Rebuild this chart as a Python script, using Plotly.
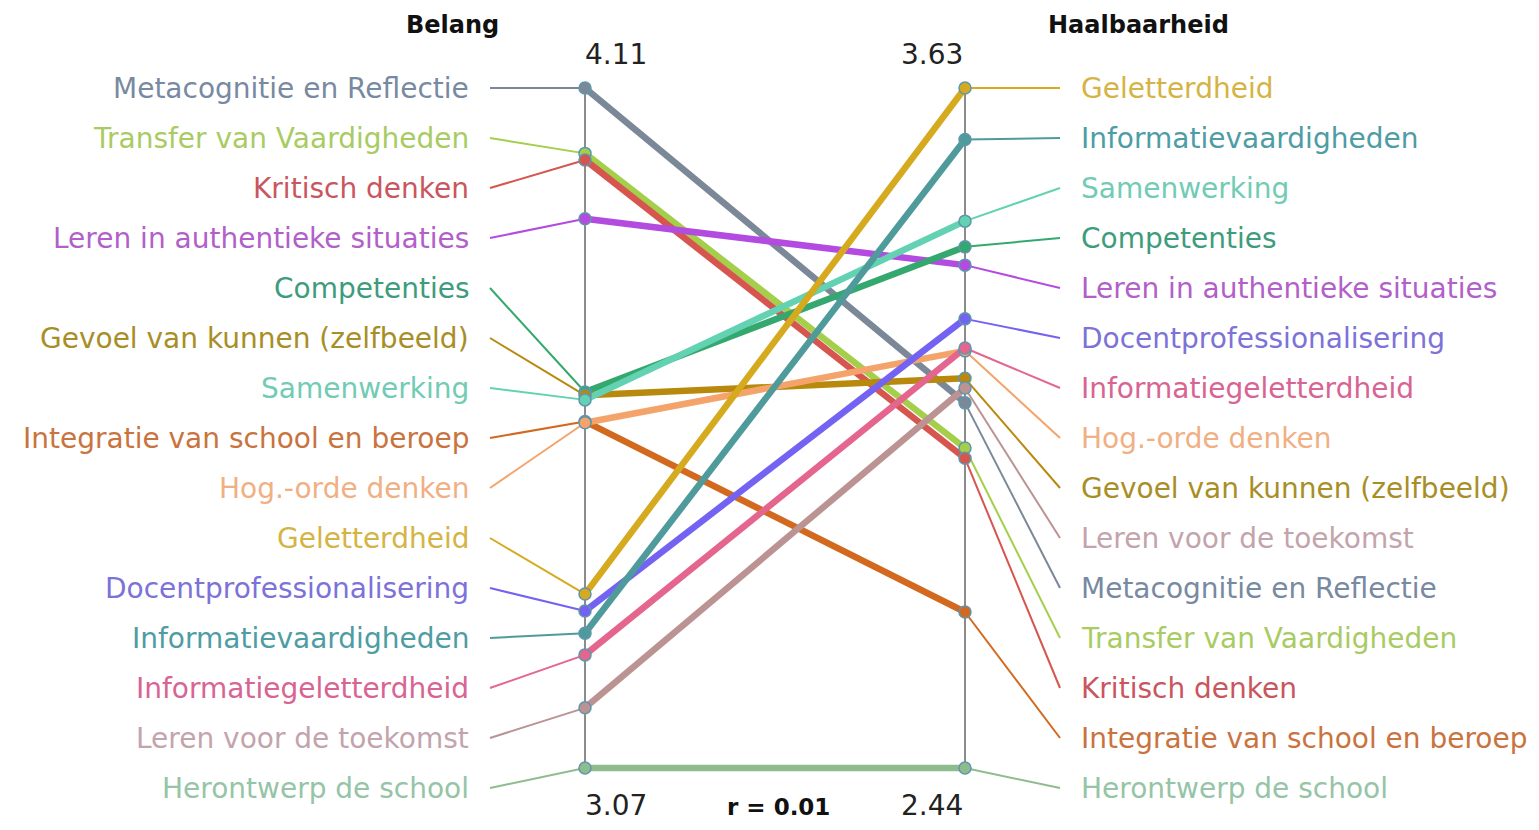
import plotly.graph_objects as go

# ---- data ----
categories = [
    "Metacognitie en Reflectie", "Transfer van Vaardigheden", "Kritisch denken",
    "Leren in authentieke situaties", "Competenties", "Gevoel van kunnen (zelfbeeld)",
    "Samenwerking", "Integratie van school en beroep", "Hog.-orde denken",
    "Geletterdheid", "Docentprofessionalisering", "Informatievaardigheden",
    "Informatiegeletterdheid", "Leren voor de toekomst", "Herontwerp de school",
]
belang = [4.11, 4.01, 4.00, 3.91, 3.645, 3.640, 3.633, 3.600, 3.598,
          3.336, 3.31, 3.276, 3.243, 3.162, 3.07]
haalbaarheid = [3.079, 3.000, 2.982, 3.320, 3.352, 3.122, 3.397, 2.713, 3.170,
                3.63, 3.226, 3.540, 3.175, 3.105, 2.44]
line_colors = ["#7b8898", "#a3cf4a", "#d6554f", "#b44be1", "#34a86e", "#b8890d",
               "#62d2b2", "#d2691e", "#f4a46a", "#d6aa1e", "#7463f2", "#4f9b9b",
               "#e4668e", "#bc9393", "#8fbc8f"]
label_colors = ["#7889a2", "#a8cb62", "#c9565e", "#b25fca", "#3e9c7c", "#a88e26",
                "#72cbb4", "#c9733e", "#f0b084", "#d4b444", "#7c72d8", "#4e9ca4",
                "#d86494", "#c4a4ac", "#95c4a6"]
r_value = 0.01

# ---- scaling helpers ----
lmin, lmax = min(belang), max(belang)
rmin, rmax = min(haalbaarheid), max(haalbaarheid)
norm_l = [(v - lmin) / (lmax - lmin) for v in belang]
norm_r = [(v - rmin) / (rmax - rmin) for v in haalbaarheid]
n = len(categories)
step = 50 / 680
slot = [1 - i * step for i in range(n)]
rank_l = sorted(range(n), key=lambda i: -belang[i])
rank_r = sorted(range(n), key=lambda i: -haalbaarheid[i])
pos_l = {idx: slot[k] for k, idx in enumerate(rank_l)}
pos_r = {idx: slot[k] for k, idx in enumerate(rank_r)}


def px2x(px):
    return (px - 585) / 380


def py2y(py):
    return (768 - py) / 680


FONT = "DejaVu Sans"
fig = go.Figure()

# axes
for xv in (0, 1):
    fig.add_trace(go.Scatter(x=[xv, xv], y=[0, 1], mode="lines",
                             line=dict(color="#8c8c8c", width=2),
                             hoverinfo="skip", showlegend=False))

# connectors
for i in range(n):
    fig.add_trace(go.Scatter(x=[-0.25, 0], y=[pos_l[i], norm_l[i]], mode="lines",
                             line=dict(color=line_colors[i], width=2),
                             hoverinfo="skip", showlegend=False))
    fig.add_trace(go.Scatter(x=[1, 1.25], y=[norm_r[i], pos_r[i]], mode="lines",
                             line=dict(color=line_colors[i], width=2),
                             hoverinfo="skip", showlegend=False))

# slope lines
for i in range(n):
    fig.add_trace(go.Scatter(x=[0, 1], y=[norm_l[i], norm_r[i]], mode="lines",
                             line=dict(color=line_colors[i], width=6.5),
                             name=categories[i], showlegend=False))
# markers
for i in range(n):
    fig.add_trace(go.Scatter(x=[0, 1], y=[norm_l[i], norm_r[i]], mode="markers",
                             marker=dict(size=12, color=line_colors[i],
                                         line=dict(color="#5f96ad", width=1.5)),
                             customdata=[belang[i], haalbaarheid[i]],
                             hovertemplate=categories[i] + ": %{customdata:.2f}<extra></extra>",
                             showlegend=False))

ann = []
for i in range(n):
    ann.append(dict(x=-0.30, y=pos_l[i], text=categories[i], showarrow=False,
                    xanchor="right", yanchor="middle",
                    font=dict(family=FONT, size=28, color=label_colors[i])))
    ann.append(dict(x=1.30, y=pos_r[i], text=categories[i], showarrow=False,
                    xanchor="left", yanchor="middle",
                    font=dict(family=FONT, size=28, color=label_colors[i])))

num_font = dict(family=FONT, size=28, color="#222")
ann += [
    dict(x=px2x(452), y=py2y(25), text="<b>Belang</b>", showarrow=False,
         font=dict(family=FONT, size=24, color="#111")),
    dict(x=px2x(1138), y=py2y(25), text="<b>Haalbaarheid</b>", showarrow=False,
         font=dict(family=FONT, size=24, color="#111")),
    dict(x=px2x(616), y=py2y(54), text=f"{lmax:.2f}", showarrow=False, font=num_font),
    dict(x=px2x(932), y=py2y(54), text=f"{rmax:.2f}", showarrow=False, font=num_font),
    dict(x=px2x(616), y=py2y(805), text=f"{lmin:.2f}", showarrow=False, font=num_font),
    dict(x=px2x(932), y=py2y(805), text=f"{rmin:.2f}", showarrow=False, font=num_font),
    dict(x=px2x(778), y=py2y(822), text=f"<b>r = {r_value:.2f}</b>", showarrow=False,
         yanchor="bottom", font=dict(family=FONT, size=23, color="#111")),
]

# page body has an 8px margin; the figure is sized to sit inside the window
fig.update_layout(
    width=1523, height=814,
    margin=dict(l=0, r=0, t=0, b=0),
    paper_bgcolor="white", plot_bgcolor="white",
    xaxis=dict(range=[-577 / 380, (1523 - 577) / 380], visible=False, fixedrange=True),
    yaxis=dict(range=[-(814 - 760) / 680, 1 + 80 / 680], visible=False, fixedrange=True),
    annotations=ann,
    showlegend=False,
)

fig.write_html("out.html")
